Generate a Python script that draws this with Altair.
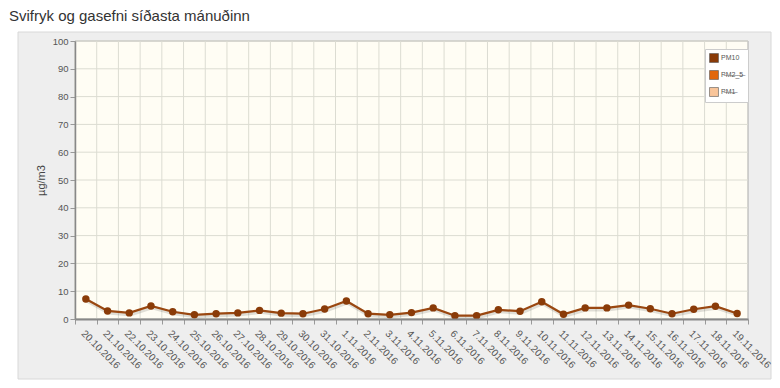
import altair as alt
import pandas as pd

dates = ["20.10.2016", "21.10.2016", "22.10.2016", "23.10.2016", "24.10.2016",
         "25.10.2016", "26.10.2016", "27.10.2016", "28.10.2016", "29.10.2016",
         "30.10.2016", "31.10.2016", "1.11.2016", "2.11.2016", "3.11.2016",
         "4.11.2016", "5.11.2016", "6.11.2016", "7.11.2016", "8.11.2016",
         "9.11.2016", "10.11.2016", "11.11.2016", "12.11.2016", "13.11.2016",
         "14.11.2016", "15.11.2016", "16.11.2016", "17.11.2016", "18.11.2016",
         "19.11.2016"]
pm10 = [7.2, 2.9, 2.2, 4.7, 2.6, 1.5, 1.9, 2.2, 3.1, 2.1,
        1.9, 3.6, 6.5, 1.9, 1.5, 2.3, 4.0, 1.2, 1.2, 3.3,
        2.8, 6.2, 1.7, 4.0, 4.0, 5.0, 3.7, 1.9, 3.5, 4.6, 2.0]
series = ["PM10", "PM2_5", "PM1"]
series_colors = ["#8a3b08", "#e2670c", "#f9c59a"]
y_ticks = [0, 10, 20, 30, 40, 50, 60, 70, 80, 90, 100]

title_text = "Svifryk og gasefni síðasta mánuðinn"
y_title = "µg/m3"

W, H = 673, 278
FONT = "Liberation Sans"

df = pd.DataFrame({"date": dates, "value": pm10, "series": ["PM10"] * len(dates)})
ticks_df = pd.DataFrame({"v": y_ticks})
dates_df = pd.DataFrame({"date": dates})

xscale = alt.Scale(type="band", paddingInner=0, paddingOuter=0, domain=dates)
yscale = alt.Scale(domain=[0, 100], nice=False, zero=True)

x_axis = alt.Axis(title=None, labelAngle=45, labelAlign="left", labelBaseline="top",
                  labelFont=FONT, labelFontSize=10, labelColor="#555",
                  tickBand="extent", tickSize=5, tickColor="#999", labelPadding=4,
                  domainColor="#888", domainWidth=2, grid=False, labelOverlap=False,
                  zindex=1)
y_axis = alt.Axis(title=y_title, values=y_ticks, labelFont=FONT, labelFontSize=9.5,
                  labelColor="#555", tickSize=5, tickColor="#999", domainColor="#888",
                  domainWidth=1.5, grid=False, titleFont=FONT, titleFontSize=11,
                  titleFontWeight="normal", titleColor="#444", titlePadding=6,
                  zindex=1)

base_one = alt.Chart(pd.DataFrame({"a": [0]}))

box = base_one.mark_rect(fill="#eeeeee", stroke="#d8d8d8", strokeWidth=1).encode(
    x=alt.value(-57), x2=alt.value(W + 23), y=alt.value(-9), y2=alt.value(H + 60))

plot_bg = base_one.mark_rect(fill="#fffdf4", stroke="#aaaaaa", strokeWidth=1).encode(
    x=alt.value(0), x2=alt.value(W), y=alt.value(0), y2=alt.value(H))

hgrid = alt.Chart(ticks_df).mark_rule(color="#dcdcd2", strokeWidth=1).encode(
    y=alt.Y("v:Q", scale=yscale, axis=y_axis))

vgrid = alt.Chart(dates_df).mark_rule(color="#dcdcd2", strokeWidth=1).encode(
    x=alt.X("date:N", scale=xscale, sort=None, bandPosition=0, axis=x_axis))

title_mark = base_one.mark_text(text=title_text, align="left", baseline="alphabetic",
                                font=FONT, fontSize=15, color="#333").encode(
    x=alt.value(-66), y=alt.value(-20))

shadow = alt.Chart(df).mark_line(color="#000", opacity=0.12, strokeWidth=4,
                                 xOffset=1, yOffset=1.5).encode(
    x=alt.X("date:N", scale=xscale, sort=None, bandPosition=0.5, axis=x_axis),
    y=alt.Y("value:Q", scale=yscale, axis=y_axis))

line = alt.Chart(df).mark_line(color="#9a4710", strokeWidth=2.2).encode(
    x=alt.X("date:N", scale=xscale, sort=None, bandPosition=0.5, axis=x_axis),
    y=alt.Y("value:Q", scale=yscale, axis=y_axis))

points = alt.Chart(df).mark_point(filled=True, size=55, opacity=1).encode(
    x=alt.X("date:N", scale=xscale, sort=None, bandPosition=0.5, axis=x_axis),
    y=alt.Y("value:Q", scale=yscale, axis=y_axis),
    color=alt.Color("series:N",
                    scale=alt.Scale(domain=series, range=series_colors),
                    legend=alt.Legend(
                        title=None, orient="none", legendX=630, legendY=8,
                        fillColor="#ffffff", strokeColor="#cccccc", padding=4,
                        symbolType="square", symbolSize=80, symbolStrokeColor="#555",
                        symbolStrokeWidth=0.6, labelFont=FONT, labelFontSize=7,
                        labelColor="#555", rowPadding=5, labelOffset=2,
                        labelExpr="datum.label == 'PM10' ? datum.label : "
                                  "datum.label == 'PM2_5' ? 'P\u0336M\u03362\u0336_\u03365\u0336' : "
                                  "'P\u0336M\u03361\u0336'")))

chart = alt.layer(box, plot_bg, hgrid, vgrid, shadow, line, points, title_mark).properties(
    width=W, height=H,
    autosize=alt.AutoSizeParams(type="none"),
    padding={"left": 67, "top": 33, "right": 24, "bottom": 61},
    background="#ffffff",
).configure_view(stroke=None)

chart.save("out.html", embed_options={"renderer": "svg", "actions": False})
